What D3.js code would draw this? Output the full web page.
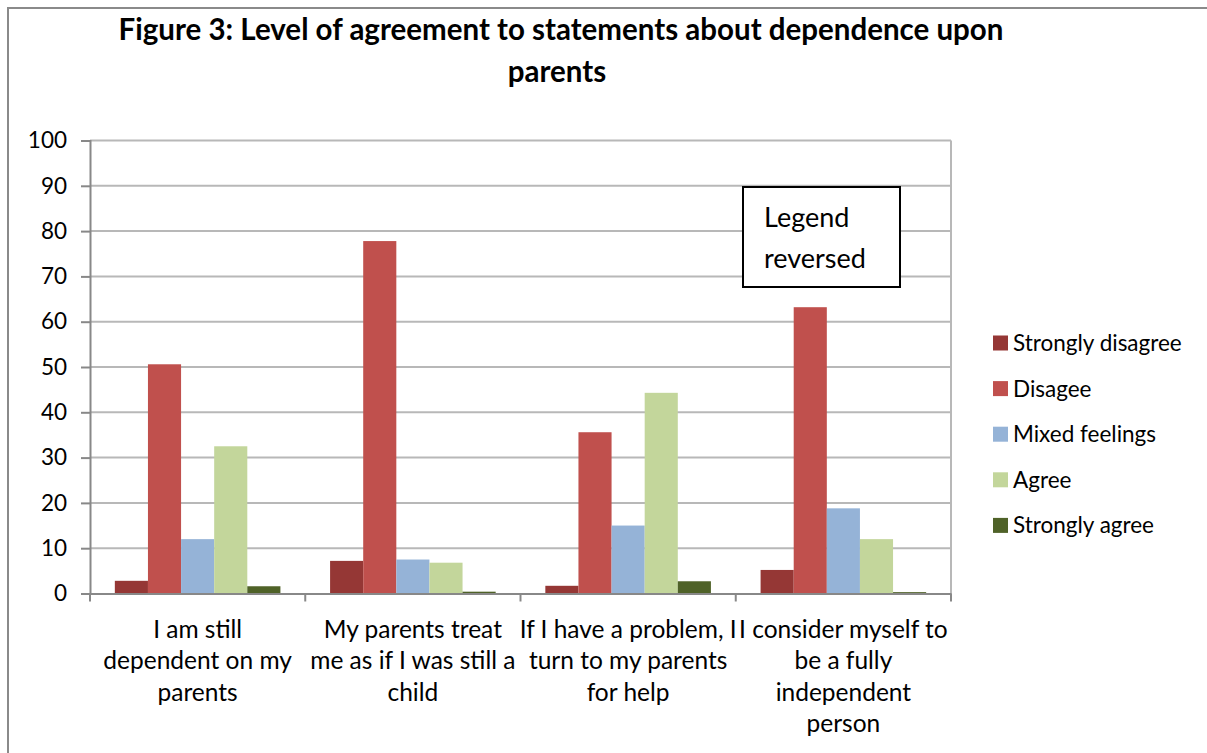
<!DOCTYPE html>
<html>
<head>
<meta charset="utf-8">
<script src="https://cdn.jsdelivr.net/npm/d3@7"></script>
<style>
  html, body { margin: 0; padding: 0; background: #fff; }
  svg { display: block; font-family: Lato, "Open Sans", sans-serif; }
</style>
</head>
<body>
<svg id="chart" width="1207" height="753"></svg>
<script>
// Statements (x categories), one line per array entry as wrapped on the axis
const categories = [
  "I am still dependent on my parents",
  "My parents treat me as if I was still a child",
  "If I have a problem, I turn to my parents for help",
  "I consider myself to be a fully independent person"
];
const categoryLines = [
  ["I am still", "dependent on my", "parents"],
  ["My parents treat", "me as if I was still a", "child"],
  ["If I have a problem, I", "turn to my parents", "for help"],
  ["I consider myself to", "be a fully", "independent", "person"]
];
const seriesNames = ["Strongly disagree", "Disagee", "Mixed feelings", "Agree", "Strongly agree"];
const seriesColors = ["#953735", "#c0504d", "#95b3d7", "#c3d69b", "#4f6228"];

// Percent of respondents per statement, one array per answer
const stronglyDisagree = [2.8, 7.2, 1.7, 5.2];
const disagree        = [50.6, 77.8, 35.6, 63.2];
const mixedFeelings   = [12.0, 7.5, 15.0, 18.8];
const agree           = [32.5, 6.8, 44.3, 12.0];
const stronglyAgree   = [1.6, 0.4, 2.7, 0.3];
const seriesValues = [stronglyDisagree, disagree, mixedFeelings, agree, stronglyAgree];

const yTicks = [0, 10, 20, 30, 40, 50, 60, 70, 80, 90, 100];

const svg = d3.select("#chart");

// Chart frame
svg.append("path")
  .attr("d", "M8,760 L8,8 L1215,8")
  .attr("fill", "none")
  .attr("stroke", "#8a8a8a")
  .attr("stroke-width", 2);

// Title
const title = svg.append("text")
  .attr("text-anchor", "middle")
  .attr("font-weight", "bold")
  .attr("font-size", 29.5)
  .attr("fill", "#000");
title.append("tspan").attr("x", 561).attr("y", 40)
  .text("Figure 3: Level of agreement to statements about dependence upon");
title.append("tspan").attr("x", 557).attr("y", 82).text("parents");

// Plot area
const plot = { left: 90, right: 951, top: 140.5, bottom: 593.5 };

const x0 = d3.scaleBand()
  .domain(categories)
  .range([plot.left, plot.right])
  .paddingInner(0)
  .paddingOuter(0);

// Five bars per statement with a gap of 1.5 bar widths split around them
const x1 = d3.scaleBand()
  .domain(seriesNames)
  .range([0, x0.bandwidth()])
  .paddingInner(0)
  .paddingOuter(0.75);

const y = d3.scaleLinear().domain([0, 100]).range([plot.bottom, plot.top]);

// Horizontal gridlines
svg.append("g")
  .selectAll("line")
  .data(yTicks.filter(d => d > 0))
  .join("line")
  .attr("x1", plot.left).attr("x2", plot.right)
  .attr("y1", d => y(d)).attr("y2", d => y(d))
  .attr("stroke", "#b8b8b8")
  .attr("stroke-width", 2);

// Right edge of plot area
svg.append("line")
  .attr("x1", plot.right).attr("x2", plot.right)
  .attr("y1", plot.top).attr("y2", plot.bottom)
  .attr("stroke", "#b8b8b8")
  .attr("stroke-width", 2);

// Bars
const barGroups = svg.append("g")
  .selectAll("g")
  .data(seriesNames)
  .join("g")
  .attr("fill", (d, i) => seriesColors[i]);

barGroups.selectAll("rect")
  .data((s, si) => categories.map((c, ci) => ({ cat: c, series: s, value: seriesValues[si][ci] })))
  .join("rect")
  .attr("x", d => x0(d.cat) + x1(d.series))
  .attr("width", x1.bandwidth())
  .attr("y", d => y(d.value))
  .attr("height", d => y(0) - y(d.value));

// Y axis
const yAxis = d3.axisLeft(y)
  .tickValues(yTicks)
  .tickSize(9)
  .tickPadding(14)
  .tickFormat(d3.format("d"));
const gy = svg.append("g")
  .attr("transform", `translate(${plot.left},0)`)
  .call(yAxis);
gy.select(".domain").attr("stroke", "#888").attr("stroke-width", 2);
gy.selectAll(".tick line").attr("stroke", "#888").attr("stroke-width", 2);
gy.selectAll(".tick text")
  .attr("font-size", 22.5)
  .attr("fill", "#000")
  .attr("font-family", "Lato, 'Open Sans', sans-serif");

// X axis
const xAxis = d3.axisBottom(x0).tickSize(0).tickFormat("");
const gx = svg.append("g")
  .attr("transform", `translate(0,${plot.bottom})`)
  .call(xAxis);
gx.select(".domain").attr("stroke", "#888").attr("stroke-width", 2);

// Category boundary ticks
const boundaries = categories.map(c => x0(c)).concat([x0.range()[1]]);
gx.selectAll(".boundary")
  .data(boundaries)
  .join("line")
  .attr("class", "boundary")
  .attr("x1", d => d).attr("x2", d => d)
  .attr("y1", 0).attr("y2", 8)
  .attr("stroke", "#888")
  .attr("stroke-width", 2);

// Wrapped category labels
const labels = svg.append("g")
  .attr("font-size", 24.5)
  .attr("fill", "#000")
  .attr("text-anchor", "middle");
categories.forEach((c, i) => {
  const t = labels.append("text");
  categoryLines[i].forEach((line, li) => {
    t.append("tspan")
      .attr("x", x0(c) + x0.bandwidth() / 2)
      .attr("y", 638 + li * 31.3)
      .text(line);
  });
});

// Legend
const legend = svg.append("g");
const legendItems = legend.selectAll("g")
  .data(seriesNames)
  .join("g")
  .attr("transform", (d, i) => `translate(993,${343 + i * 45.6})`);
legendItems.append("rect")
  .attr("x", 0).attr("y", -7.5)
  .attr("width", 15).attr("height", 15)
  .attr("fill", (d, i) => seriesColors[i]);
legendItems.append("text")
  .attr("x", 20)
  .attr("y", 8)
  .attr("font-size", 22.5)
  .attr("fill", "#000")
  .text(d => d);

// Note box
const note = svg.append("g");
note.append("rect")
  .attr("x", 743).attr("y", 187)
  .attr("width", 157).attr("height", 100)
  .attr("fill", "#fff")
  .attr("stroke", "#000")
  .attr("stroke-width", 2);
const noteText = note.append("text")
  .attr("font-size", 27)
  .attr("fill", "#000");
noteText.append("tspan").attr("x", 764).attr("y", 227).text("Legend");
noteText.append("tspan").attr("x", 764).attr("y", 268).text("reversed");
</script>
</body>
</html>
